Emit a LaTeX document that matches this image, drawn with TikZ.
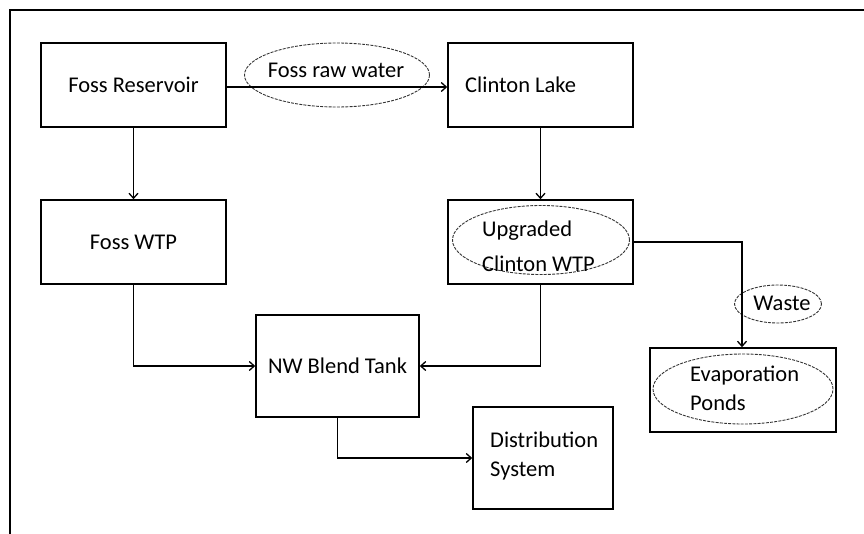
\documentclass[tikz,border=0pt]{standalone}
\usepackage{fontspec}
\setmainfont{Carlito}
\usetikzlibrary{arrows.meta,shapes.geometric}
\begin{document}
\begin{tikzpicture}[x=1pt,y=-1pt,
  every node/.style={font=\fontsize{22.5}{29}\selectfont, inner sep=0pt},
  stepbox/.style={draw, line width=1.6pt, minimum width=185pt, minimum height=84pt},
  tag/.style={draw, ellipse, dashed, dash pattern=on 3pt off 1.2pt, line width=0.9pt, draw=black!80},
  flow/.style={line width=1.5pt, -{Straight Barb[length=5pt,width=9pt,line width=1.3pt]}}
]
\useasboundingbox (0,0) rectangle (864,533);
% open frame along the top and left edges
\coordinate (ftl) at (10,10);
\coordinate (ftr) at (866,10);
\coordinate (fbl) at (10,535);
\draw[line width=1.7pt] (fbl) -- (ftl) -- (ftr);

% process boxes
\node[stepbox] (res) at (133.5,85) {Foss Reservoir};
\node[stepbox] (fwtp) at (133.5,242) {Foss WTP};
\node[stepbox] (lake) at (540.5,85) {};
\node[anchor=west] (lakelbl) at (465,85) {Clinton Lake};
\node[stepbox] (cwtp) at (540.5,242) {};
\node[stepbox, minimum width=163pt, minimum height=102pt] (blend) at (337.5,366) {NW Blend Tank};
\node[stepbox, minimum width=140pt, minimum height=102pt] (dist) at (543,458) {};
\node[anchor=west, align=left] (distlbl) at (490,456) {Distribution\\System};
\node[stepbox, minimum width=186pt, minimum height=84pt] (evap) at (743,390) {};

% highlighted labels
\node[tag, minimum width=177pt, minimum height=69pt] (cwtpell) at (541,240) {};
\node[anchor=west, align=left, font=\fontsize{22.5}{35}\selectfont] (cwtplbl) at (482,246) {Upgraded\\Clinton WTP};
\node[tag, minimum width=180pt, minimum height=70pt] (evapell) at (743,389) {};
\node[anchor=west, align=left] (evaplbl) at (690,388) {Evaporation\\Ponds};
\node[tag, minimum width=185pt, minimum height=64pt] (rawell) at (337,75) {};
\node (rawlbl) at (336,70) {Foss raw water};
\node[tag, minimum width=87pt, minimum height=38pt] (wasteell) at (778,304) {};
\node (wastelbl) at (782,303) {Waste};

% connectors
\coordinate (wbend) at (742,242);
\draw[flow] (res.east |- 0,87) -- (lake.west |- 0,87);
\draw[flow] (res.south) -- (fwtp.north);
\draw[flow] (lake.south) -- (cwtp.north);
\draw[flow] (fwtp.south) |- (blend.west);
\draw[flow] (cwtp.south) |- (blend.east);
\draw[flow] (cwtp.east) -- (wbend) -- (wbend |- evap.north);
\draw[flow] (blend.south) |- (dist.west);
\end{tikzpicture}
\end{document}
